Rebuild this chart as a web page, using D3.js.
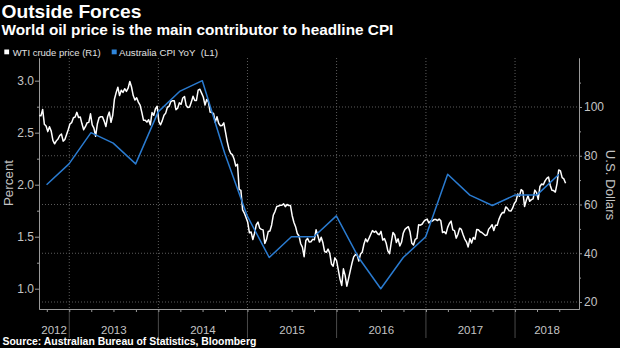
<!DOCTYPE html>
<html><head><meta charset="utf-8">
<script src="https://cdn.jsdelivr.net/npm/d3@7"></script>
<style>html,body{margin:0;padding:0;background:#000;overflow:hidden}</style>
</head><body>
<svg id="c" width="620" height="348"></svg>
<script>
// ---------- data ----------
const titleText = "Outside Forces";
const subtitleText = "World oil price is the main contributor to headline CPI";
const sourceText = "Source: Australian Bureau of Statistics, Bloomberg";
const legendLabels = ["WTI crude price (R1)", "Australia CPI YoY  (L1)"];
const leftTitle = "Percent";
const rightTitle = "U.S. Dollars";
const yearLabels = ["2012", "2013", "2014", "2015", "2016", "2017", "2018"];
const leftTicks = [1.0, 1.5, 2.0, 2.5, 3.0];
const leftMinorTicks = [1.25, 1.75, 2.25, 2.75];
const rightTicks = [20, 40, 60, 80, 100];
const rightMinorTicks = [30, 50, 70, 90, 110];

// Australia CPI YoY (%), quarter ends
const cpiDates = ["2012-09-30","2012-12-31","2013-03-31","2013-06-30","2013-09-30","2013-12-31",
  "2014-03-31","2014-06-30","2014-09-30","2014-12-31","2015-03-31","2015-06-30","2015-09-30",
  "2015-12-31","2016-03-31","2016-06-30","2016-09-30","2016-12-31","2017-03-31","2017-06-30",
  "2017-09-30","2017-12-31","2018-03-31","2018-06-30"];
const cpiValues = [2.0, 2.2, 2.5, 2.4, 2.2, 2.7, 2.9, 3.0, 2.3, 1.7, 1.3, 1.5, 1.5,
  1.7, 1.3, 1.0, 1.3, 1.5, 2.1, 1.9, 1.8, 1.9, 1.9, 2.1];

// WTI crude (USD), weekly readings starting on this Friday
const wtiStart = "2012-08-31";
const wti2012 = [96.5, 96.4, 99.0, 92.9, 92.2, 89.9, 91.9, 90.1, 86.3, 84.9, 86.1, 86.9, 88.3, 88.9, 86.0, 86.7, 88.7, 90.8];
const wti2013 = [93.1, 93.6, 95.6, 95.9, 97.8, 95.7, 95.9, 93.1, 90.7, 91.9, 93.5, 93.7, 97.2, 92.7, 91.3, 88.0, 93.0, 95.6,
  96.0, 96.0, 94.2, 92.0, 96.0, 97.9, 93.7, 96.6, 103.2, 105.9, 108.1, 104.7, 106.9, 106.0, 107.5, 106.4, 107.7, 110.5,
  108.2, 104.7, 102.9, 103.8, 102.0, 100.8, 97.9, 94.6, 94.6, 93.8, 94.8, 92.7, 97.7, 96.6, 99.3, 100.3];
const wti2014 = [93.96, 92.7, 94.4, 96.6, 97.5, 99.9, 100.3, 102.2, 102.6, 102.6, 98.9, 99.5, 101.7, 101.1, 103.7, 104.3,
  100.6, 99.8, 100.0, 102.0, 104.4, 102.7, 102.7, 106.9, 107.3, 105.7, 104.1, 100.8, 103.1, 102.1, 97.9, 97.7, 97.4, 93.7,
  96.0, 93.3, 92.3, 92.4, 93.5, 89.7, 85.8, 82.8, 81.0, 80.5, 78.7, 75.8, 76.5, 66.2, 65.8, 57.8, 56.5, 54.7];
const wti2015 = [52.7, 48.4, 48.7, 45.6, 48.2, 51.7, 52.8, 50.3, 49.8, 49.6, 44.0, 45.7, 48.9, 49.1, 51.6, 55.7, 57.2, 59.2,
  59.4, 59.7, 59.7, 60.3, 59.1, 60.0, 59.6, 59.6, 55.5, 52.7, 50.9, 48.1, 47.1, 43.9, 42.5, 38.6, 45.2, 46.1, 44.6, 44.7,
  45.7, 45.5, 49.6, 47.3, 44.6, 46.6, 44.3, 40.7, 40.4, 41.7, 40.0, 35.6, 34.7, 38.1];
const wti2016 = [37.0, 33.2, 29.4, 26.8, 33.6, 30.9, 26.5, 29.6, 32.8, 35.9, 38.5, 39.4, 39.5, 36.8, 39.7, 40.4, 43.7, 45.9,
  44.7, 46.2, 47.8, 49.3, 48.6, 49.1, 48.0, 47.6, 49.0, 45.4, 46.0, 44.2, 41.0, 39.8, 44.5, 48.5, 47.6, 44.4, 45.9, 43.0,
  44.5, 48.2, 49.8, 50.4, 50.9, 48.7, 44.1, 43.4, 45.7, 46.1, 51.7, 51.5, 51.9, 53.0, 53.7];
const wti2017 = [54.0, 52.4, 53.2, 53.2, 53.8, 53.9, 53.4, 54.0, 53.3, 48.5, 48.8, 48.0, 50.6, 52.2, 53.2, 49.6, 49.3, 46.2,
  47.8, 50.3, 49.8, 47.7, 45.8, 44.7, 42.6, 46.0, 44.2, 46.5, 45.8, 49.7, 49.6, 48.8, 48.5, 47.9, 47.3, 47.5, 49.9, 50.7,
  51.7, 49.3, 51.5, 51.5, 53.9, 55.6, 56.7, 56.6, 59.0, 58.4, 57.4, 57.3, 58.5, 60.4];
const wti2018 = [61.4, 64.3, 63.4, 66.1, 65.5, 59.2, 61.7, 63.6, 61.3, 62.0, 62.3, 65.9, 64.9, 62.1, 67.4, 68.4, 68.1, 69.7,
  70.7, 71.3, 67.9, 65.8, 65.7, 65.1, 68.6, 74.2, 73.8, 71.0, 70.5, 68.7];

// ---------- build ----------
const parse = d3.timeParse("%Y-%m-%d");
const cpi = cpiDates.map((d, i) => ({date: parse(d), value: cpiValues[i]}));
const wtiValues = [].concat(wti2012, wti2013, wti2014, wti2015, wti2016, wti2017, wti2018);
const startDay = parse(wtiStart);
const wti = wtiValues.map((v, i) => ({date: d3.timeDay.offset(startDay, 7 * i), value: v}));

const svg = d3.select("#c");
svg.append("rect").attr("width", 620).attr("height", 348).attr("fill", "#000");

const L = 39, R = 579, T = 58, B = 309;
const x = d3.scaleTime().domain([new Date(2012, 7, 30), new Date(2018, 8, 20)]).range([L, R]);
const yL = d3.scaleLinear().domain([0.805, 3.218]).range([B, T]);
const yR = d3.scaleLinear().domain([17.13, 120.1]).range([B, T]);

const FONT = "'Liberation Sans', Arial, sans-serif";
const TXT = "#c4c4c4";
const GRID = "#5c5c5c";
const AX = "#9a9a9a";

function fit(sel, w) {
  const l = sel.node().getComputedTextLength();
  const fs = parseFloat(sel.attr("font-size"));
  sel.attr("font-size", (fs * w / l).toFixed(2));
  return sel;
}

// titles
fit(svg.append("text").attr("x", 1.5).attr("y", 18.4).attr("font-family", FONT).attr("font-weight", "bold")
  .attr("font-size", 19).attr("fill", "#fff").text(titleText), 140);
fit(svg.append("text").attr("x", 1.5).attr("y", 34.6).attr("font-family", FONT).attr("font-weight", "bold")
  .attr("font-size", 13).attr("fill", "#fff").text(subtitleText), 392);

// legend
svg.append("rect").attr("x", 4.3).attr("y", 49.5).attr("width", 4.8).attr("height", 4.8).attr("fill", "#fff");
fit(svg.append("text").attr("x", 12.7).attr("y", 55.5).attr("font-family", FONT).attr("font-size", 9.5)
  .attr("fill", "#e0e0e0").style("white-space", "pre").text(legendLabels[0]), 88);
svg.append("rect").attr("x", 111.7).attr("y", 49.5).attr("width", 5).attr("height", 4.8).attr("fill", "#2f86dc");
fit(svg.append("text").attr("x", 119).attr("y", 55.5).attr("font-family", FONT).attr("font-size", 9.5)
  .attr("fill", "#e0e0e0").style("white-space", "pre").text(legendLabels[1]), 99);

// horizontal grid (right axis ticks)
svg.append("g").selectAll("line").data(rightTicks).join("line")
  .attr("x1", L).attr("x2", R).attr("y1", d => yR(d)).attr("y2", d => yR(d))
  .attr("stroke", GRID).attr("stroke-width", 1).attr("stroke-dasharray", "1,2");

// year boundaries
const years = d3.range(2012, 2019);
const bounds = years.slice(1).map(y => new Date(y, 0, 1));
svg.append("g").selectAll("line").data(bounds).join("line")
  .attr("x1", d => x(d)).attr("x2", d => x(d)).attr("y1", T).attr("y2", B)
  .attr("stroke", GRID).attr("stroke-width", 1).attr("stroke-dasharray", "1,2");
svg.append("g").selectAll("line").data(bounds).join("line")
  .attr("x1", d => x(d)).attr("x2", d => x(d)).attr("y1", B).attr("y2", 338)
  .attr("stroke", "#4a4a4a").attr("stroke-width", 1);

// year labels centred in visible year span
const [d0, d1] = x.domain();
svg.append("g").selectAll("text").data(years).join("text")
  .attr("x", (y, i) => {
    const a = new Date(Math.max(d0, new Date(y, 0, 1)));
    const b = new Date(Math.min(d1, new Date(y + 1, 0, 1)));
    return (x(a) + x(b)) / 2;
  })
  .attr("y", 334).attr("text-anchor", "middle").attr("font-family", FONT).attr("font-size", 11.5)
  .attr("fill", TXT).text((y, i) => yearLabels[i]);

// axes
function styleAxis(g) {
  g.attr("font-family", FONT).attr("font-size", 12);
  g.selectAll("path.domain").attr("stroke", AX);
  g.selectAll(".tick line").attr("stroke", AX);
  g.selectAll(".tick text").attr("fill", TXT);
}
svg.append("g").attr("transform", `translate(${L},0)`)
  .call(d3.axisLeft(yL).tickValues(leftTicks).tickSize(4).tickSizeOuter(0).tickPadding(1).tickFormat(d3.format(".1f")))
  .call(styleAxis);
svg.append("g").attr("transform", `translate(${L},0)`)
  .call(d3.axisLeft(yL).tickValues(leftMinorTicks).tickSize(2).tickSizeOuter(0).tickFormat(""))
  .call(styleAxis);
svg.append("g").attr("transform", `translate(${R},0)`)
  .call(d3.axisRight(yR).tickValues(rightTicks).tickSize(3).tickSizeOuter(0).tickPadding(2).tickFormat(d3.format("d")))
  .call(styleAxis);
svg.append("g").attr("transform", `translate(${R},0)`)
  .call(d3.axisRight(yR).tickValues(rightMinorTicks).tickSize(2).tickSizeOuter(0).tickFormat(""))
  .call(styleAxis);
svg.append("g").attr("transform", `translate(0,${B})`)
  .call(d3.axisBottom(x).ticks(d3.timeMonth.every(3)).tickSize(3).tickSizeOuter(0).tickFormat(""))
  .call(styleAxis);

// axis titles
svg.append("text").attr("transform", "translate(13.3,183) rotate(-90)").attr("text-anchor", "middle")
  .attr("font-family", FONT).attr("font-size", 13.4).attr("fill", TXT).text(leftTitle);
svg.append("text").attr("transform", "translate(606,185) rotate(90)").attr("text-anchor", "middle")
  .attr("font-family", FONT).attr("font-size", 13.2).attr("fill", TXT).text(rightTitle);

// lines
svg.append("path").datum(wti)
  .attr("d", d3.line().x(d => x(d.date)).y(d => yR(d.value)))
  .attr("fill", "none").attr("stroke", "#ffffff").attr("stroke-width", 1.5).attr("stroke-linejoin", "round");
svg.append("path").datum(cpi)
  .attr("d", d3.line().x(d => x(d.date)).y(d => yL(d.value)))
  .attr("fill", "none").attr("stroke", "#2a7bd0").attr("stroke-width", 1.5).attr("stroke-linejoin", "round");

// source
fit(svg.append("text").attr("x", 2.5).attr("y", 344.5).attr("font-family", FONT).attr("font-weight", "bold")
  .attr("font-size", 10.5).attr("fill", "#fff").text(sourceText), 254);
</script>
</body></html>
